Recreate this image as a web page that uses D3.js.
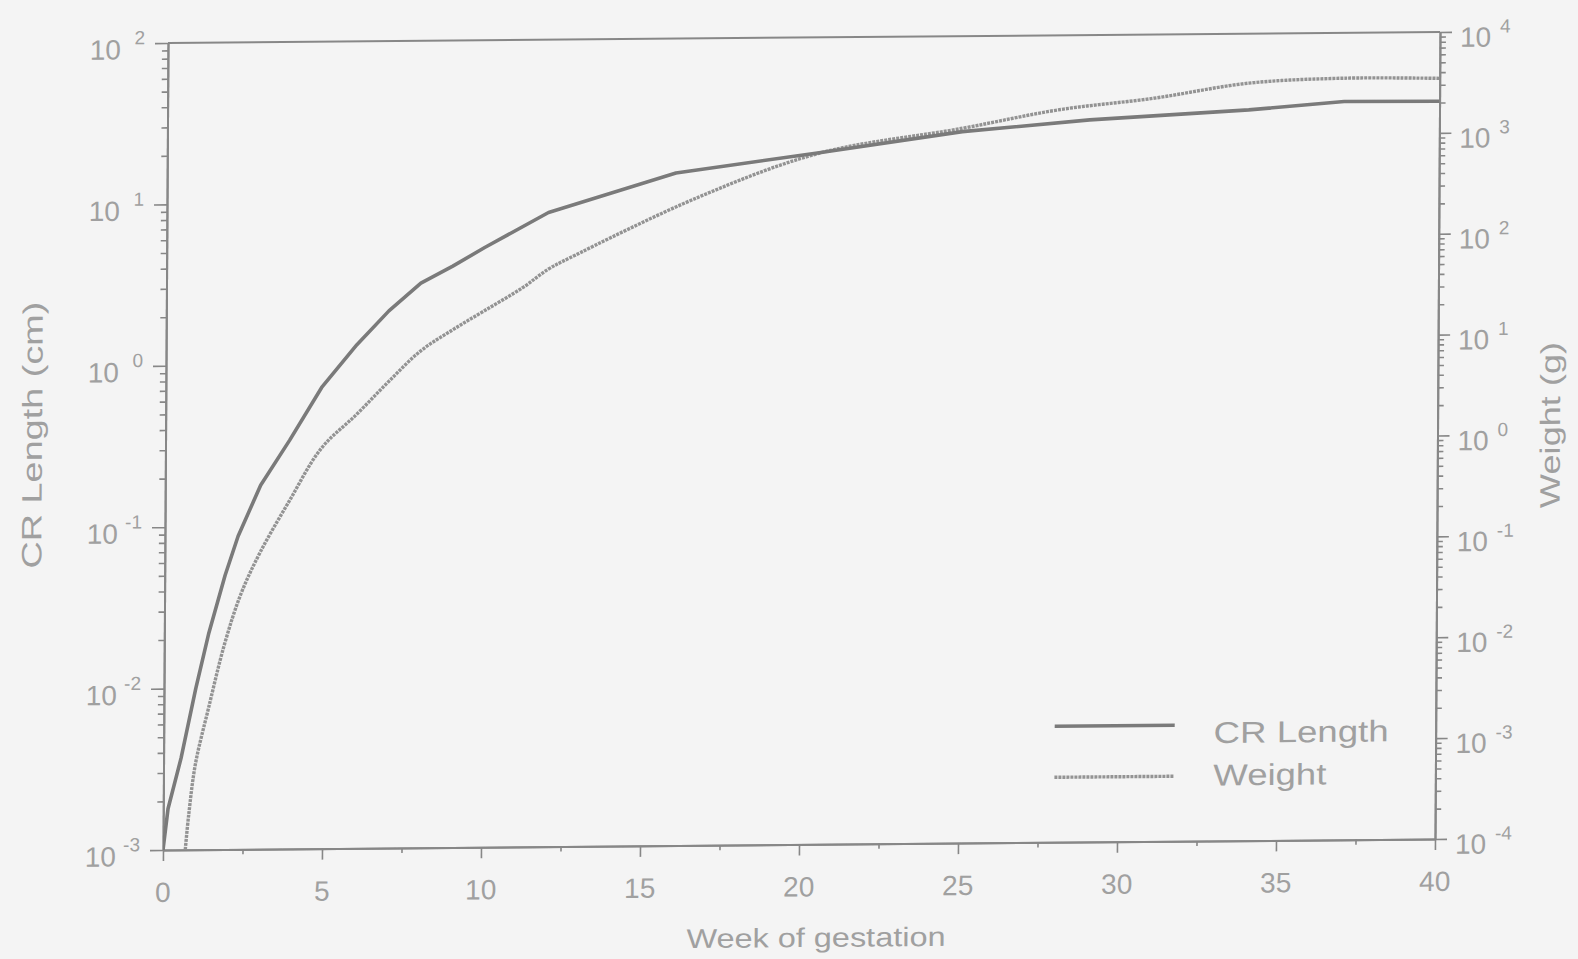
<!DOCTYPE html>
<html>
<head>
<meta charset="utf-8">
<script src="https://cdn.jsdelivr.net/npm/d3@7"></script>
<style>
  html, body { margin: 0; padding: 0; background: #f4f4f4; }
  svg { display: block; }
  text { font-family: "Liberation Sans", Arial, Helvetica, sans-serif; fill: #a0a0a0; }
</style>
</head>
<body>
<svg id="chart" width="1578" height="959"></svg>
<script>
// ---- data ----
const crWeeks  = [0, 0.15, 0.55, 1, 1.4, 1.9, 2.3, 3, 3.9, 4.9, 6, 7, 8, 9, 10, 12, 16, 20.5, 25, 29, 34, 37, 40];
const crLength = [0.001, 0.0018, 0.0037, 0.01, 0.022, 0.05, 0.087, 0.18, 0.34, 0.72, 1.32, 2.13, 3.15, 4.0, 5.2, 8.5, 14.7, 19.3, 25.6, 29.8, 33.7, 37.5, 37.2];

const wtWeeks = [0.7, 0.8, 1, 1.4, 1.9, 2.4, 3, 3.9, 4.9, 6, 7, 8, 9, 10, 11.2, 12, 12.7, 16.75, 20.5, 25, 28, 31, 34, 37, 40];
const weight  = [0.0001, 0.00022, 0.0007, 0.0025, 0.011, 0.034, 0.088, 0.28, 0.93, 2.0, 4.2, 8.4, 13.5, 20.8, 35, 53, 69, 270, 710, 1220, 1820, 2330, 3230, 3550, 3470];

const xTickLabels = [0, 5, 10, 15, 20, 25, 30, 35, 40];
const xMinorTicks = [2.5, 7.5, 12.5, 17.5, 22.5, 27.5, 32.5, 37.5];
const leftExponents  = [-3, -2, -1, 0, 1, 2];
const rightExponents = [-4, -3, -2, -1, 0, 1, 2, 3, 4];
const seriesNames = ["CR Length", "Weight"];

// ---- layout ----
const W = 1272, H = 807;
const svg = d3.select("#chart");
// the scanned figure is slightly skewed
const g = svg.append("g").attr("transform", "matrix(1,-0.00865,-0.00619,1,168,43)");

const x  = d3.scaleLinear().domain([0, 40]).range([0, W]);
const yL = d3.scaleLog().domain([1e-3, 1e2]).range([H, 0]);
const yR = d3.scaleLog().domain([1e-4, 1e4]).range([H, 0]);

const axisColor = "#878787";
function styleAxis(sel) {
  sel.select(".domain").attr("stroke", axisColor).attr("stroke-width", 2);
  sel.selectAll(".tick line").attr("stroke", axisColor).attr("stroke-width", 1.6);
  sel.selectAll(".tick text").remove();
}

// top border
g.append("line").attr("x1", 0).attr("x2", W).attr("y1", 0).attr("y2", 0)
  .attr("stroke", axisColor).attr("stroke-width", 2);

// bottom axis
g.append("g").attr("transform", `translate(0,${H})`)
  .call(d3.axisBottom(x).tickValues(xTickLabels).tickSize(11).tickSizeOuter(0).tickFormat(""))
  .call(styleAxis);
g.append("g").attr("transform", `translate(0,${H})`)
  .call(d3.axisBottom(x).tickValues(xMinorTicks).tickSize(5).tickSizeOuter(0).tickFormat(""))
  .call(styleAxis);

// left axis
const leftMajors = leftExponents.map(e => Math.pow(10, e));
const leftMinors = yL.ticks().filter(v => Math.abs(Math.log10(v) - Math.round(Math.log10(v))) > 1e-6);
g.append("g").call(d3.axisLeft(yL).tickValues(leftMajors).tickSize(13).tickSizeOuter(0).tickFormat("")).call(styleAxis);
g.append("g").call(d3.axisLeft(yL).tickValues(leftMinors).tickSize(6).tickSizeOuter(0).tickFormat("")).call(styleAxis);

// right axis
const rightMajors = rightExponents.map(e => Math.pow(10, e));
const rightMinors = yR.ticks().filter(v => Math.abs(Math.log10(v) - Math.round(Math.log10(v))) > 1e-6);
g.append("g").attr("transform", `translate(${W},0)`)
  .call(d3.axisRight(yR).tickValues(rightMajors).tickSize(12).tickSizeOuter(0).tickFormat("")).call(styleAxis);
g.append("g").attr("transform", `translate(${W},0)`)
  .call(d3.axisRight(yR).tickValues(rightMinors).tickSize(6).tickSizeOuter(0).tickFormat("")).call(styleAxis);

// tick labels
g.selectAll(".xlab").data(xTickLabels).join("text")
  .attr("x", d => x(d)).attr("y", H + 52)
  .attr("text-anchor", "middle").attr("font-size", 28).text(d => d);

leftExponents.forEach(e => {
  const yy = yL(Math.pow(10, e));
  g.append("text").attr("x", -47).attr("y", yy + 16).attr("text-anchor", "end").attr("font-size", 28).text("10");
  g.append("text").attr("x", -23).attr("y", yy + 1).attr("text-anchor", "end").attr("font-size", 19).text(String(e));
});
rightExponents.forEach(e => {
  const yy = yR(Math.pow(10, e));
  g.append("text").attr("x", W + 20).attr("y", yy + 15).attr("text-anchor", "start").attr("font-size", 28).text("10");
  g.append("text").attr("x", W + 60).attr("y", yy + 1).attr("text-anchor", "start").attr("font-size", 19).text(String(e));
});

// axis titles
g.append("text").attr("transform", "translate(-123.6,391) rotate(-90)")
  .attr("text-anchor", "middle").attr("font-size", 28)
  .attr("textLength", 267).attr("lengthAdjust", "spacingAndGlyphs").text("CR Length (cm)");
g.append("text").attr("transform", "translate(1394.4,394) rotate(-90)")
  .attr("text-anchor", "middle").attr("font-size", 28)
  .attr("textLength", 166).attr("lengthAdjust", "spacingAndGlyphs").text("Weight (g)");
g.append("text").attr("x", 653.6).attr("y", 909.6)
  .attr("text-anchor", "middle").attr("font-size", 27)
  .attr("textLength", 259).attr("lengthAdjust", "spacingAndGlyphs").text("Week of gestation");

// clip
g.append("clipPath").attr("id", "plotclip").append("rect")
  .attr("x", 0).attr("y", -2).attr("width", W).attr("height", H + 2);

const crData = crWeeks.map((w, i) => ({ w, v: crLength[i] }));
const wtData = wtWeeks.map((w, i) => ({ w, v: weight[i] }));

const crStyle = { stroke: "#7a7a7a", width: 3.6, dash: null };
const wtStyle = { stroke: "#939393", width: 3.4, dash: "3 1" };

const lines = g.append("g").attr("clip-path", "url(#plotclip)");
lines.append("path").datum(wtData)
  .attr("fill", "none").attr("stroke", wtStyle.stroke).attr("stroke-width", wtStyle.width)
  .attr("stroke-dasharray", wtStyle.dash)
  .attr("d", d3.line().x(d => x(d.w)).y(d => yR(d.v)).curve(d3.curveCatmullRom.alpha(0.5)));
lines.append("path").datum(crData)
  .attr("fill", "none").attr("stroke", crStyle.stroke).attr("stroke-width", crStyle.width)
  .attr("stroke-linejoin", "round")
  .attr("d", d3.line().x(d => x(d.w)).y(d => yL(d.v)));

// legend
const legendRows = [
  { name: seriesNames[0], style: crStyle, y: 691, ty: 709, len: 175 },
  { name: seriesNames[1], style: wtStyle, y: 742, ty: 751.5, len: 113 }
];
const lg = g.append("g");
legendRows.forEach(r => {
  lg.append("line").attr("x1", 891).attr("x2", 1011).attr("y1", r.y).attr("y2", r.y)
    .attr("stroke", r.style.stroke).attr("stroke-width", r.style.width)
    .attr("stroke-dasharray", r.style.dash);
  lg.append("text").attr("x", 1050).attr("y", r.ty).attr("font-size", 30)
    .attr("textLength", r.len).attr("lengthAdjust", "spacingAndGlyphs").text(r.name);
});
</script>
</body>
</html>
